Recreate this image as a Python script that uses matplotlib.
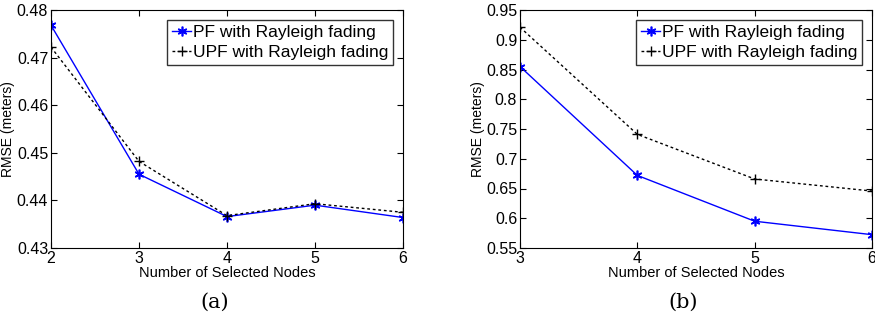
import matplotlib
matplotlib.use("Agg")
from matplotlib import pyplot as plt

# panel (a)
nodes_a = [2, 3, 4, 5, 6]
pf_a = [0.4768, 0.4455, 0.4366, 0.4390, 0.4364]
upf_a = [0.4722, 0.4482, 0.4368, 0.4393, 0.4375]
yticks_a = [0.43, 0.44, 0.45, 0.46, 0.47, 0.48]

# panel (b)
nodes_b = [3, 4, 5, 6]
pf_b = [0.855, 0.672, 0.595, 0.5724]
upf_b = [0.921, 0.741, 0.666, 0.6457]
yticks_b = [0.55, 0.6, 0.65, 0.7, 0.75, 0.8, 0.85, 0.9, 0.95]

plt.rcParams["font.family"] = ["Liberation Sans", "DejaVu Sans"]
plt.rcParams["font.size"] = 10

fig = plt.figure(figsize=(8.75, 3.2), dpi=100)
W, H = 875, 320


def add_panel(box, nodes, pf, upf, yticks, ylim, caption, cap_x):
    x0, y0, x1, y1 = box
    ax = fig.add_axes([x0 / W, 1 - y1 / H, (x1 - x0) / W, (y1 - y0) / H])
    ax.plot(nodes, pf, color="blue", marker=(6, 2, 0), markersize=7,
            markeredgewidth=1.2, linewidth=1.0, label="PF with Rayleigh fading")
    ax.plot(nodes, upf, color="black", marker="+", markersize=7, linewidth=1.0,
            linestyle=(0, (2, 2)), label="UPF with Rayleigh fading")
    ax.set_xlim(nodes[0], nodes[-1])
    ax.set_ylim(*ylim)
    ax.set_xticks(nodes)
    ax.set_yticks(yticks)
    ax.set_yticklabels([f"{v:g}" for v in yticks])
    ax.tick_params(direction="in", top=True, right=True, length=4, labelsize=11.5,
                   pad=2)
    ax.set_xlabel("Number of Selected Nodes", fontsize=10.5, labelpad=0)
    ax.set_ylabel("RMSE (meters)", fontsize=10, labelpad=1)
    leg = ax.legend(loc="upper right", fontsize=12.5, handlelength=1.1,
                    handletextpad=0.1, borderpad=0.3, labelspacing=0.3,
                    fancybox=False, borderaxespad=0.55)
    leg.get_frame().set_edgecolor("black")
    leg.get_frame().set_linewidth(1.0)
    fig.text(cap_x / W, 1 - 302 / H, caption, ha="center", va="center",
             fontsize=15, family="DejaVu Serif")


add_panel((51, 10, 403, 248), nodes_a, pf_a, upf_a, yticks_a, (0.43, 0.48), "(a)", 215)
add_panel((520, 10, 872, 248), nodes_b, pf_b, upf_b, yticks_b, (0.55, 0.95), "(b)", 683)

fig.savefig("out.png", dpi=100)
